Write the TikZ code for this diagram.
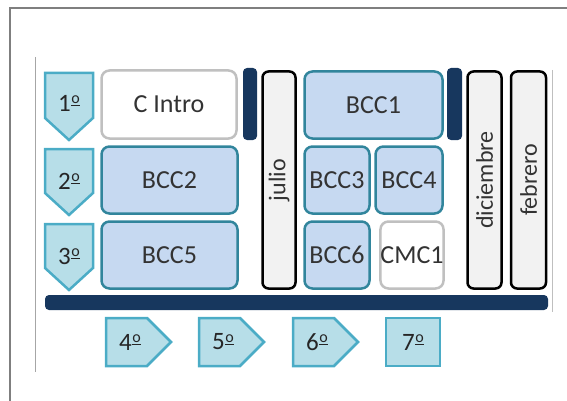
\documentclass[tikz,border=0pt]{standalone}
\usepackage{fontspec}
\setmainfont{Carlito}
\definecolor{chevfill}{HTML}{B7DEE8}
\definecolor{chevline}{HTML}{4BACC6}
\definecolor{bccfill}{HTML}{C6D9F1}
\definecolor{bccline}{HTML}{31859C}
\definecolor{introline}{HTML}{C0C0C0}
\definecolor{monthfill}{HTML}{F2F2F2}
\definecolor{navy}{HTML}{17375E}
\definecolor{frame}{HTML}{7F7F7F}
\newcommand{\myord}{\kern0.5pt\raisebox{0.3em}{\fontsize{16}{16}\selectfont\underline{o}}}
\begin{document}
\begin{tikzpicture}[x=1pt,y=-1pt,
  box/.style={rectangle,rounded corners=8pt,line width=2.5pt,inner sep=0pt,font=\fontsize{26}{28}\selectfont,text=black!80},
  bccbox/.style={box,draw=bccline,fill=bccfill},
  introbox/.style={box,draw=introline,fill=white},
  monthbox/.style={box,draw=black,fill=monthfill,rounded corners=6pt},
  monthtext/.style={font=\fontsize{24}{26}\selectfont,text=black!80,rotate=90},
  navybar/.style={rectangle,rounded corners=4pt,fill=navy,inner sep=0pt},
  chev/.style={draw=chevline,fill=chevfill,line width=2.5pt,line join=miter},
  chevtext/.style={font=\fontsize{25}{27}\selectfont,text=black!85,inner sep=0pt}]
\useasboundingbox (0,0) rectangle (567,401);
% outer frame
\draw[frame,line width=1.2pt] (10,401) -- (10,8) -- (567,8);
\draw[black!35,line width=0.8pt] (35,57) -- (35,372);
\draw[black!25,line width=1pt] (552,70) -- (552,312);
% left chevrons
\draw[chev] (45,73) -- (93,73) -- (93,118) -- (69,140) -- (45,118) -- cycle;
\node[chevtext] (c1) at (69,103) {1\myord};
\draw[chev] (45,149) -- (93,149) -- (93,193) -- (69,215) -- (45,193) -- cycle;
\node[chevtext] (c2) at (69,181) {2\myord};
\draw[chev] (45,224) -- (93,224) -- (93,268) -- (69,290) -- (45,268) -- cycle;
\node[chevtext] (c3) at (69,256) {3\myord};
% boxes
\node[introbox,minimum width=135pt,minimum height=68pt] (intro) at (169,104.5) {C Intro};
\node[bccbox,minimum width=136pt,minimum height=67pt] (bcc2) at (169.5,180) {BCC2};
\node[bccbox,minimum width=136pt,minimum height=67pt] (bcc5) at (169.5,255) {BCC5};
\node[navybar,minimum width=14pt,minimum height=72pt] (bar1) at (250,104) {};
\node[monthbox,minimum width=33pt,minimum height=217pt] (julio) at (279,180) {};
\node[monthtext] (julioT) at (julio.center) {julio};
\node[bccbox,minimum width=138pt,minimum height=67pt] (bcc1) at (373.5,105) {BCC1};
\node[bccbox,minimum width=65pt,minimum height=67pt] (bcc3) at (337,180) {BCC3};
\node[bccbox,minimum width=67pt,minimum height=67pt] (bcc4) at (409,180) {BCC4};
\node[bccbox,minimum width=65pt,minimum height=67pt] (bcc6) at (337,255) {BCC6};
\node[introbox,minimum width=61pt,minimum height=67pt] (cmc1) at (412,255) {CMC1};
\node[navybar,minimum width=15pt,minimum height=72pt] (bar2) at (454.5,104) {};
\node[monthbox,minimum width=34pt,minimum height=217pt] (dic) at (484.5,180) {};
\node[monthtext] (dicT) at (dic.center) {diciembre};
\node[monthbox,minimum width=35pt,minimum height=217pt] (feb) at (528.5,180) {};
\node[monthtext] (febT) at (feb.center) {febrero};
% horizontal bar
\node[navybar,minimum width=503pt,minimum height=15pt] (hbar) at (296.5,302.5) {};
% bottom chevrons
\draw[chev] (106,318) -- (147,318) -- (171,342) -- (147,366) -- (106,366) -- cycle;
\node[chevtext] (c4) at (130,342) {4\myord};
\draw[chev] (199,318) -- (240,318) -- (264,342) -- (240,366) -- (199,366) -- cycle;
\node[chevtext] (c5) at (223,342) {5\myord};
\draw[chev] (293,318) -- (334,318) -- (358,342) -- (334,366) -- (293,366) -- cycle;
\node[chevtext] (c6) at (317,342) {6\myord};
\draw[chev] (386,318) -- (440,318) -- (440,366) -- (386,366) -- cycle;
\node[chevtext] (c7) at (413,342) {7\myord};
\end{tikzpicture}
\end{document}
